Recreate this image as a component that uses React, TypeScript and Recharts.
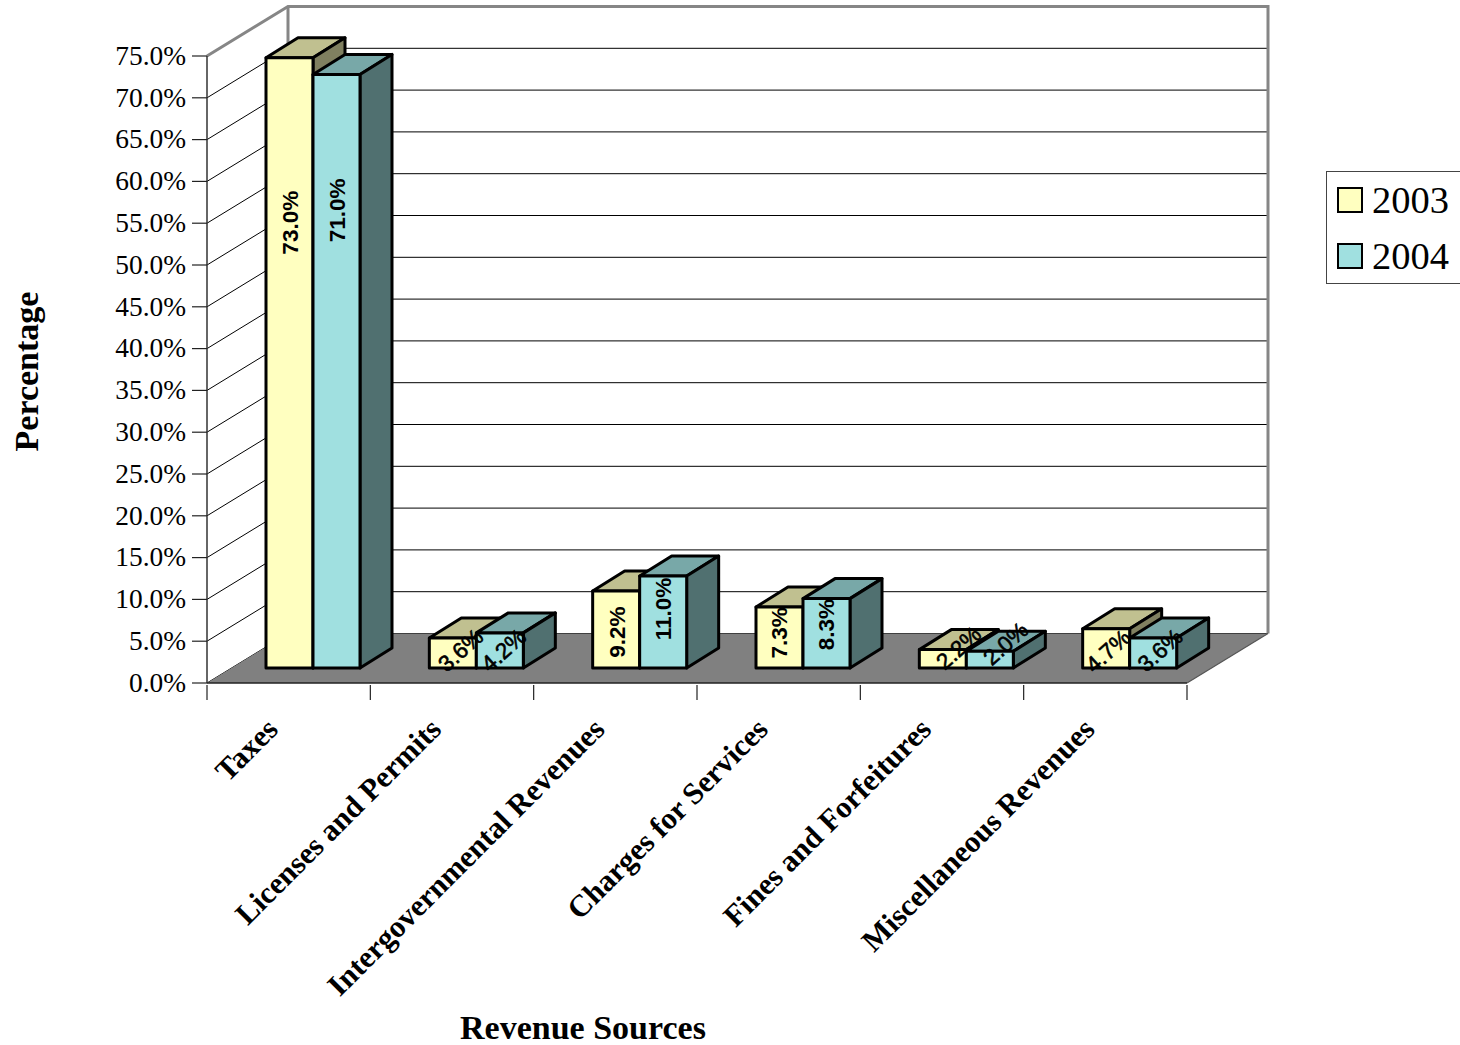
import {
  ComposedChart,
  Bar,
  Line,
  LabelList,
  XAxis,
  YAxis,
  CartesianGrid,
  ReferenceArea,
  Legend,
} from "recharts";

const categories = [
  "Taxes",
  "Licenses and Permits",
  "Intergovernmental Revenues",
  "Charges for Services",
  "Fines and Forfeitures",
  "Miscellaneous Revenues",
];
const values2003 = [73.0, 3.6, 9.2, 7.3, 2.2, 4.7];
const values2004 = [71.0, 4.2, 11.0, 8.3, 2.0, 3.6];
const yTicks = [0, 5, 10, 15, 20, 25, 30, 35, 40, 45, 50, 55, 60, 65, 70, 75];

const data = categories.map((name, i) => ({
  name,
  y2003: values2003[i],
  y2004: values2004[i],
}));

const SERIF = "'Liberation Serif', 'Times New Roman', serif";
const SANS = "'Liberation Sans', Arial, sans-serif";

// oblique projection of the chart box
const WALL_DX = 81;
const WALL_DY = -49.5;
// bars stand part way into the floor
const BAR_DX = 24;
const BAR_DY = -15;
const BAR_W = 47;
const DEPTH_X = 32;
const DEPTH_Y = -20;

const WALL_GREY = "#868686";

const pts = (list: number[][]) => list.map(p => p.join(",")).join(" ");

// label nudges from the middle of a bar's front top edge: [dx, dy]
const nudge2003 = [[1, 165], [8, 12], [1, 41], [-0.5, 26], [16, -2], [2, 22]];
const nudge2004 = [[1, 136], [4, 17], [0, 33], [0, 26], [16, -8], [7, 12]];

const box3d = (front: string, top: string, side: string) => (props: any) => {
  const x0 = props.x + BAR_DX;
  const x1 = x0 + props.width;
  const y0 = props.y + BAR_DY;
  const y1 = y0 + props.height;
  const common = { stroke: "#000", strokeWidth: 3, strokeLinejoin: "round" as const };
  return (
    <g>
      <polygon points={pts([[x0, y0], [x0 + DEPTH_X, y0 + DEPTH_Y], [x1 + DEPTH_X, y0 + DEPTH_Y], [x1, y0]])} fill={top} {...common} />
      <polygon points={pts([[x1, y0], [x1 + DEPTH_X, y0 + DEPTH_Y], [x1 + DEPTH_X, y1 + DEPTH_Y], [x1, y1]])} fill={side} {...common} />
      <rect x={x0} y={y0} width={props.width} height={props.height} fill={front} {...common} />
    </g>
  );
};

// left wall, back wall and floor behind the bars
const ChartBox = (props: any) => {
  const { x, y, width, height } = props;
  const bottom = y + height;
  const right = x + width;
  return (
    <g>
      <polygon
        points={pts([[x, bottom], [x + WALL_DX, bottom + WALL_DY], [right + WALL_DX, bottom + WALL_DY], [right, bottom]])}
        fill="#808080"
      />
      <polyline
        points={pts([[x, y], [x + WALL_DX, y + WALL_DY], [right + WALL_DX, y + WALL_DY], [right + WALL_DX, bottom + WALL_DY]])}
        fill="none"
        stroke={WALL_GREY}
        strokeWidth={3}
      />
      <line x1={x + WALL_DX} y1={y + WALL_DY} x2={x + WALL_DX} y2={bottom + WALL_DY} stroke={WALL_GREY} strokeWidth={3} />
      <line x1={right} y1={bottom} x2={right + WALL_DX} y2={bottom + WALL_DY} stroke="#555" strokeWidth={1.2} />
    </g>
  );
};

// one gridline: runs back along the left wall, then across the back wall
const gridLine = (props: any) => {
  const { x1, x2, y1, key } = props;
  return (
    <g key={key}>
      <line x1={x1} y1={y1} x2={x1 + WALL_DX} y2={y1 + WALL_DY} stroke="#000" strokeWidth={1} />
      <line x1={x1 + WALL_DX} y1={y1 + WALL_DY} x2={x2 + WALL_DX} y2={y1 + WALL_DY} stroke="#000" strokeWidth={1} />
    </g>
  );
};

const CategoryTick = (props: any) => {
  const { x, y, payload, index } = props;
  const half = 163.33 / 2;
  const tx = x - 9;
  const ty = y + 38;
  return (
    <g>
      <line x1={x - half} y1={y - 8} x2={x - half} y2={y + 7} stroke="#222" strokeWidth={1.2} />
      {index === categories.length - 1 && (
        <line x1={x + half} y1={y - 8} x2={x + half} y2={y + 7} stroke="#222" strokeWidth={1.2} />
      )}
      <text
        x={tx}
        y={ty}
        textAnchor="end"
        transform={`rotate(-45 ${tx} ${ty})`}
        fontFamily={SERIF}
        fontWeight="bold"
        fontSize={30.5}
        fill="#000"
      >
        {payload.value}
      </text>
    </g>
  );
};

// value labels sit on top of every bar, so they come from line series drawn last
const valueLabel = (nudges: number[][], side: number) => (props: any) => {
  const { x, y, value, index } = props;
  const cx = x + side * (BAR_W / 2) + BAR_DX + nudges[index][0];
  const cy = y + BAR_DY + nudges[index][1];
  const short = value < 6;
  return (
    <text
      x={cx}
      y={cy}
      dy="0.36em"
      textAnchor="middle"
      transform={`rotate(${short ? -42 : -90} ${cx} ${cy})`}
      fontFamily={SANS}
      fontWeight={short ? "normal" : "bold"}
      fontSize={22.5}
      fill="#000"
      stroke={short ? "#000" : "none"}
      strokeWidth={short ? 0.6 : 0}
    >
      {value.toFixed(1)}%
    </text>
  );
};

const legendRows = [
  { label: "2003", color: "#FFFFC0" },
  { label: "2004", color: "#A0E0E0" },
];

const LegendBox = () => (
  <div
    style={{
      boxSizing: "border-box",
      width: 140,
      height: 113,
      background: "#fff",
      border: "1px solid #444",
      paddingLeft: 10,
    }}
  >
    {legendRows.map(row => (
      <div key={row.label} style={{ display: "flex", alignItems: "center", height: 56 }}>
        <span
          style={{
            boxSizing: "border-box",
            width: 26,
            height: 26,
            background: row.color,
            border: "2.5px solid #000",
            marginRight: 9,
          }}
        />
        <span style={{ fontFamily: SERIF, fontSize: 38.5, lineHeight: 1, color: "#000" }}>{row.label}</span>
      </div>
    ))}
  </div>
);

export default function App() {
  return (
    <div style={{ position: "absolute", left: 0, top: 0, width: 1460, height: 1045, overflow: "hidden" }}>
      <ComposedChart
        width={1460}
        height={1045}
        data={data}
        margin={{ top: 56, right: 273, bottom: 0, left: 0 }}
        barSize={BAR_W}
        barGap={0}
      >
        <CartesianGrid horizontal={gridLine} vertical={false} />
        <ReferenceArea y1={0} y2={75} shape={ChartBox} ifOverflow="visible" fill="none" stroke="none" />
        <XAxis
          dataKey="name"
          interval={0}
          height={362}
          tickLine={false}
          tickSize={8}
          tick={CategoryTick}
          axisLine={{ stroke: "#222", strokeWidth: 1.5 }}
          label={{
            value: "Revenue Sources",
            position: "insideBottom",
            dx: -114,
            offset: 6,
            style: { fontFamily: SERIF, fontWeight: "bold", fontSize: 34, fill: "#000" },
          }}
        />
        <YAxis
          domain={[0, 75]}
          ticks={yTicks}
          interval={0}
          width={207}
          tickSize={15}
          tickMargin={6}
          tickLine={{ stroke: "#222", strokeWidth: 1.2 }}
          axisLine={{ stroke: "#333", strokeWidth: 1.5 }}
          tick={{ fontFamily: SERIF, fontSize: 27.4, fill: "#000", dy: -1 }}
          tickFormatter={(v: number) => `${v.toFixed(1)}%`}
          label={{
            value: "Percentage",
            angle: -90,
            position: "insideLeft",
            dx: 21,
            dy: 2,
            style: { fontFamily: SERIF, fontWeight: "bold", fontSize: 34, fill: "#000", textAnchor: "middle" },
          }}
        />
        <Bar dataKey="y2003" shape={box3d("#FFFFC0", "#C0C090", "#808060")} isAnimationActive={false} />
        <Bar dataKey="y2004" shape={box3d("#A0E0E0", "#78A8A8", "#507070")} isAnimationActive={false} />
        <Line dataKey="y2003" stroke="none" dot={false} activeDot={false} isAnimationActive={false}>
          <LabelList dataKey="y2003" content={valueLabel(nudge2003, -1)} />
        </Line>
        <Line dataKey="y2004" stroke="none" dot={false} activeDot={false} isAnimationActive={false}>
          <LabelList dataKey="y2004" content={valueLabel(nudge2004, 1)} />
        </Line>
        <Legend
          layout="horizontal"
          verticalAlign="middle"
          align="center"
          content={LegendBox}
          wrapperStyle={{ position: "absolute", left: 1326, top: 171, width: 140, height: 113, margin: 0 }}
        />
      </ComposedChart>
    </div>
  );
}
